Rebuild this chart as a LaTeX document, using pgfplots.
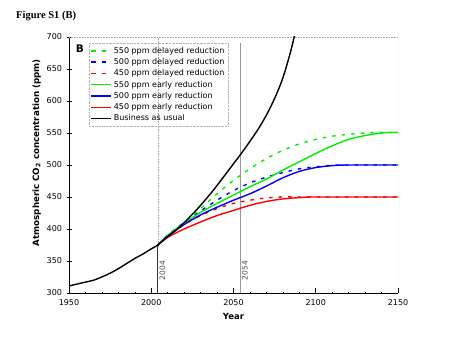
\documentclass[border=0pt]{standalone}
\usepackage{pgfplots}
\pgfplotsset{compat=1.18}
\usepackage{fontspec}
\setmainfont{DejaVu Sans}
\newfontfamily\serifbf{Liberation Serif}
\definecolor{grn}{RGB}{0,240,0}
\definecolor{blu}{RGB}{0,0,255}
\definecolor{rd}{RGB}{255,0,0}
\begin{document}
\begin{tikzpicture}
\path[use as bounding box] (0pt,0pt) rectangle (460pt,358pt);
\node[anchor=west,font=\serifbf\bfseries\fontsize{10.5}{12}\selectfont,inner sep=0] at (16pt,342pt) {Figure S1 (B)};
\begin{axis}[
  at={(69pt,65pt)}, anchor=south west,
  scale only axis, width=329pt, height=256pt,
  xmin=1950, xmax=2150, ymin=300, ymax=700,
  axis lines=left, axis line style={-, line width=0.8pt},
  xtick={1950,2000,2050,2100,2150},
  ytick={300,350,...,700},
  minor x tick num=4,
  xtick align=inside, ytick align=center,
  major tick length=5pt, minor tick length=2.5pt,
  minor x tick style={yshift=-1.25pt},
  tick style={black, line width=0.6pt},
  x tick label style={font=\fontsize{8}{9}\selectfont, yshift=-3pt},
  y tick label style={font=\fontsize{8}{9}\selectfont, xshift=-1pt},
  /pgf/number format/assume math mode=true,
  xticklabel style={/pgf/number format/1000 sep={}},
  xlabel={\bfseries Year},
  ylabel={\bfseries Atmospheric CO$_\mathbf{2}$ concentration (ppm)},
  xlabel style={font=\fontsize{8.5}{10}\selectfont, yshift=-1pt},
  ylabel style={font=\fontsize{8.7}{10}\selectfont, at={(ticklabel cs:0.548)}, yshift=-1pt},
  legend style={at={(0.06,0.975)}, anchor=north west, draw=gray!60, densely dotted,
    font=\fontsize{8}{9.5}\selectfont, row sep=-0.3pt, inner sep=1.5pt, fill=none},
  legend cell align=left,
  legend image code/.code={\draw[#1, solid] (0pt,0pt) -- (20pt,0pt);},
  clip=true,
]
% vertical markers
\draw[gray!70, densely dotted, line width=0.6pt] (axis cs:2004,373) -- (axis cs:2004,700);
\draw[black!80, line width=0.7pt] (axis cs:2004,300) -- (axis cs:2004,373);
\draw[gray!80, line width=1.1pt] (axis cs:2054,300) -- (axis cs:2054,690);
\draw[gray!70, densely dotted, line width=0.6pt] (rel axis cs:0,1) -- (rel axis cs:1,1) -- (rel axis cs:1,0);

\addplot[grn, line width=1.4pt, dash pattern=on 3.5pt off 6pt, smooth,
  legend image code/.code={\draw[grn, line width=1.4pt, dash pattern=on 4.5pt off 6pt] (0pt,0pt) -- (20pt,0pt);}]
  coordinates {(2004,375) (2010,391) (2020,411) (2030,432) (2040,455) (2050,476) (2060,494) (2070,510) (2080,523) (2090,533) (2100,540) (2110,545) (2120,548) (2130,550) (2140,551) (2150,551)};
\addlegendentry{550 ppm delayed reduction}
\addplot[blu, line width=1.4pt, dash pattern=on 3.5pt off 6pt, smooth,
  legend image code/.code={\draw[blu, line width=1.4pt, dash pattern=on 4.5pt off 6pt] (0pt,0pt) -- (20pt,0pt);}]
  coordinates {(2004,375) (2010,390) (2020,409) (2030,428) (2040,445) (2050,460) (2060,472) (2070,481) (2080,488) (2090,494) (2100,497) (2110,499.5) (2120,500) (2150,500)};
\addlegendentry{500 ppm delayed reduction}
\addplot[rd, line width=1.4pt, dash pattern=on 3.5pt off 6pt, smooth,
  legend image code/.code={\draw[rd, line width=1.4pt, dash pattern=on 4.5pt off 6pt] (0pt,0pt) -- (20pt,0pt);}]
  coordinates {(2004,375) (2010,389) (2020,407) (2030,421) (2040,432) (2050,440) (2060,445) (2070,448.5) (2080,450) (2100,450) (2150,450)};
\addlegendentry{450 ppm delayed reduction}
\addplot[grn, line width=1.4pt, smooth]
  coordinates {(2004,375) (2010,390) (2020,409) (2030,426) (2040,440) (2050,453) (2060,466) (2070,478) (2080,492) (2090,505) (2100,518) (2110,530) (2120,540) (2130,546) (2140,550) (2150,551)};
\addlegendentry{550 ppm early reduction}
\addplot[blu, line width=1.4pt, smooth]
  coordinates {(2004,375) (2010,389) (2020,407) (2030,422) (2040,434) (2050,445) (2060,455) (2070,467) (2080,480) (2090,490) (2100,496) (2110,499) (2120,500) (2150,500)};
\addlegendentry{500 ppm early reduction}
\addplot[rd, line width=1.4pt, smooth]
  coordinates {(2004,375) (2010,387) (2020,400) (2030,411) (2040,421) (2050,429) (2060,437) (2070,443) (2080,447) (2090,449) (2100,450) (2150,450)};
\addlegendentry{450 ppm early reduction}
\addplot[black, line width=1.4pt, smooth]
  coordinates {(1950,311) (1955,314) (1960,317) (1965,320) (1970,325) (1975,331) (1980,338) (1985,346) (1990,354) (1995,361) (2000,369) (2004,375) (2010,388) (2015,398) (2020,410) (2025,423) (2030,437) (2035,452) (2040,468) (2045,485) (2050,502) (2055,519) (2060,537) (2065,556) (2070,578) (2075,604) (2080,636) (2085,680) (2090,735)};
\addlegendentry{Business as usual}

\node[font=\bfseries\fontsize{10.5}{12}\selectfont, anchor=west, inner sep=0] at (axis cs:1954,681) {B};
\node[rotate=90, anchor=north west, font=\fontsize{7.5}{9}\selectfont, text=black!70, inner sep=1pt] at (axis cs:2004.3,318) {2004};
\node[rotate=90, anchor=north west, font=\fontsize{7.5}{9}\selectfont, text=black!70, inner sep=1pt] at (axis cs:2054.5,318) {2054};
\end{axis}
\end{tikzpicture}
\end{document}
